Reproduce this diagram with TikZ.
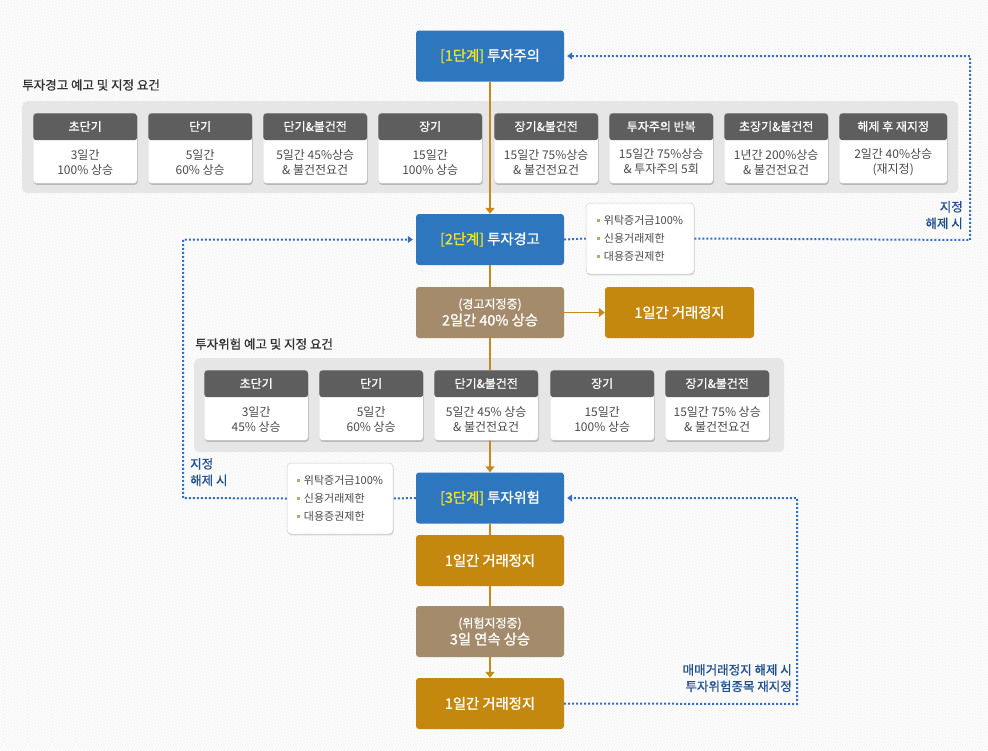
\documentclass[tikz,border=0pt]{standalone}
\usepackage{fontspec}
\setmainfont{Noto Sans CJK KR}
\newfontfamily\krmed[FakeBold=0.8]{Noto Sans CJK KR}
\newfontfamily\krstage[FakeBold=1.3]{Noto Sans CJK KR}
\usetikzlibrary{arrows.meta,shadows,calc,patterns}
\definecolor{stageblue}{HTML}{2E76BE}
\definecolor{stagegold}{HTML}{C4880F}
\definecolor{stagebrown}{HTML}{A38B6B}
\definecolor{paneltone}{HTML}{E6E6E6}
\definecolor{headtone}{HTML}{5E5E5E}
\definecolor{bodytext}{HTML}{4A4A4A}
\definecolor{labeltext}{HTML}{333333}
\definecolor{loopblue}{HTML}{2F6FC4}
\definecolor{looplabel}{HTML}{1F4E8C}
\definecolor{flowline}{HTML}{C8891A}
\definecolor{stepyellow}{HTML}{F6E51E}
\definecolor{bulletgreen}{HTML}{A3B56A}
\begin{document}
\begin{tikzpicture}[x=1pt,y=-1pt,
  flowbox/.style={rectangle, rounded corners=3pt, text=white, minimum width=148pt, minimum height=51pt, inner sep=0pt, align=center, font=\krstage\fontsize{14.3}{17}\selectfont},
  bluebox/.style={flowbox, fill=stageblue},
  goldbox/.style={flowbox, fill=stagegold},
  brownbox/.style={flowbox, fill=stagebrown},
  panelbox/.style={rectangle, rounded corners=5pt, fill=paneltone, inner sep=0pt, anchor=north west},
  cardbody/.style={rectangle, rounded corners=3pt, fill=white, draw=black!18, line width=0.4pt, minimum width=104pt, minimum height=70pt, inner sep=0pt, anchor=north west,
    drop shadow={shadow xshift=0.6pt, shadow yshift=-1.6pt, fill=black!45, opacity=0.5},
    path picture={\fill[headtone] (path picture bounding box.north west) rectangle ([yshift=-27pt]path picture bounding box.north east);}},
  headtext/.style={text=white, inner sep=0pt, font=\krmed\fontsize{12}{14}\selectfont},
  cardtext/.style={text=bodytext, inner sep=0pt, align=center, font=\fontsize{12}{15}\selectfont},
  infobox/.style={rectangle, rounded corners=4pt, fill=white, draw=black!20, line width=0.5pt, minimum width=108pt, minimum height=71pt, inner sep=0pt, text=bodytext, align=left, font=\fontsize{11}{18}\selectfont,
    drop shadow={shadow xshift=0.6pt, shadow yshift=-1.4pt, fill=black!35, opacity=0.45}},
  grouplabel/.style={text=labeltext, inner sep=0pt, anchor=west, font=\krmed\fontsize{12.5}{15}\selectfont},
  looptext/.style={text=looplabel, inner sep=0pt, font=\krmed\fontsize{12.5}{16.5}\selectfont},
  flowarrow/.style={draw=flowline, line width=1.6pt, -{Triangle[length=6pt,width=9pt]}},
  flowplain/.style={draw=flowline, line width=1.6pt},
  loopline/.style={draw=loopblue, line width=2pt, dash pattern=on 2pt off 2pt},
  looparrow/.style={loopline, -{Triangle[length=5pt,width=7pt]}, shorten >=3pt}
]
\useasboundingbox (0,0) rectangle (988,750);
\fill[white] (0,0) rectangle (988,750);
\fill[pattern=north east lines, pattern color=black!5] (0,0) rectangle (988,750);

\newcommand{\stepmark}[1]{\textcolor{stepyellow}{[#1단계]}}
\newcommand{\bul}{\textcolor{bulletgreen}{\rule[0.25em]{3pt}{3pt}}\hspace{4pt}}

% panels
\node[panelbox, minimum width=936pt, minimum height=92pt] (panelA) at (22,101) {};
\node[panelbox, minimum width=590pt, minimum height=94pt] (panelB) at (194,358) {};
\node[grouplabel] (labelA) at (22,85) {투자경고 예고 및 지정 요건};
\node[grouplabel] (labelB) at (195,344) {투자위험 예고 및 지정 요건};

% flow boxes
\node[bluebox] (s1) at (490,56) {\stepmark{1} 투자주의};
\node[bluebox] (s2) at (490,239.5) {\stepmark{2} 투자경고};
\node[brownbox] (b1) at (490,312.5) {{\krmed\fontsize{12}{15}\selectfont (경고지정중)}\\2일간 40\% 상승};
\node[goldbox, minimum width=149pt] (gr) at (679.5,312.5) {1일간 거래정지};
\node[bluebox] (s3) at (490,498) {\stepmark{3} 투자위험};
\node[goldbox] (g1) at (490,560.5) {1일간 거래정지};
\node[brownbox] (b2) at (490,631.5) {{\krmed\fontsize{12}{15}\selectfont (위험지정중)}\\3일 연속 상승};
\node[goldbox] (g2) at (490,703.5) {1일간 거래정지};

% info boxes
\node[infobox] (info1) at (640,238.5) {\bul 위탁증거금100\%\\\bul 신용거래제한\\\bul 대용증권제한};
\node[infobox, minimum width=106pt] (info2) at (340,498.5) {\bul 위탁증거금100\%\\\bul 신용거래제한\\\bul 대용증권제한};

% flow connectors
\draw[flowarrow] (s1.south) -- (s2.north);
\draw[flowplain] (s2.south) -- (b1.north);
\draw[flowarrow] (b1.east) -- (gr.west);
\draw[flowarrow] (b1.south) -- (s3.north);
\draw[flowplain] (s3.south) -- (g1.north);
\draw[flowplain] (g1.south) -- (b2.north);
\draw[flowarrow] (b2.south) -- (g2.north);

% loops
\coordinate (rightcorner) at (970,240);
\coordinate (leftcorner) at (183,498);
\coordinate (bottomcorner) at (797,704);
\draw[loopline] (s2.east) -- (info1.west);
\draw[looparrow] (info1.east) -- (rightcorner) |- (s1.east);
\draw[loopline] (s3.west) -- (info2.east);
\draw[looparrow] (info2.west) -- (leftcorner) |- (s2.west);
\draw[looparrow] (g2.east) -- (bottomcorner) |- (s3.east);

\node[looptext, anchor=north east, align=right] (lab1) at (963,201) {지정\\해제 시};
\node[looptext, anchor=north west, align=left] (lab2) at (190,458) {지정\\해제 시};
\node[looptext, anchor=north east, align=right] (lab3) at (792,664) {매매거래정지 해제 시\\투자위험종목 재지정};

% cards, panel A
\foreach \x/\w/\h/\a/\b [count=\i] in {
  33/104/초단기/3일간/100\% 상승,
  148/104/단기/5일간/60\% 상승,
  263/104/단기\&불건전/5일간 45\%상승/\& 불건전요건,
  378/104/장기/15일간/100\% 상승,
  494/104/장기\&불건전/15일간 75\%상승/\& 불건전요건,
  609/104/투자주의 반복/15일간 75\%상승/\& 투자주의 5회,
  724/104/초장기\&불건전/1년간 200\%상승/\& 불건전요건,
  839/108/해제 후 재지정/2일간 40\%상승/(재지정)}{
  \node[cardbody, minimum width=\w pt] (ca\i) at (\x,113) {};
  \node[headtext] (ha\i) at ($(ca\i.north)+(0,13.5)$) {\h};
  \node[cardtext] (ta\i) at ($(ca\i.north)+(0,49)$) {\a\\\b};
}

% cards, panel B
\foreach \x/\h/\a/\b [count=\i] in {
  204/초단기/3일간/45\% 상승,
  319/단기/5일간/60\% 상승,
  434/단기\&불건전/5일간 45\% 상승/\& 불건전요건,
  550/장기/15일간/100\% 상승,
  665/장기\&불건전/15일간 75\% 상승/\& 불건전요건}{
  \node[cardbody] (cb\i) at (\x,370) {};
  \node[headtext] (hb\i) at ($(cb\i.north)+(0,13.5)$) {\h};
  \node[cardtext] (tb\i) at ($(cb\i.north)+(0,49)$) {\a\\\b};
}
\end{tikzpicture}
\end{document}
